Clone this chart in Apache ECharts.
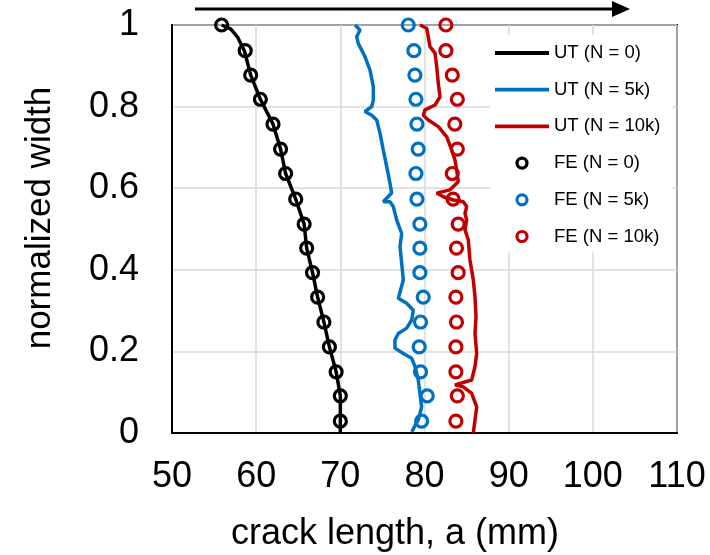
<!DOCTYPE html>
<html>
<head>
<meta charset="utf-8">
<script src="https://cdn.jsdelivr.net/npm/echarts@6/dist/echarts.min.js"></script>
<style>html,body{margin:0;padding:0;background:#fff}#c{width:710px;height:555px}</style>
</head>
<body>
<div id="c"></div>
<script>
// ---- data ----
const xTicks = [50, 60, 70, 80, 90, 100, 110];
const yTicks = [0, 0.2, 0.4, 0.6, 0.8, 1];
const seriesNames = ['UT (N = 0)', 'UT (N = 5k)', 'UT (N = 10k)', 'FE (N = 0)', 'FE (N = 5k)', 'FE (N = 10k)'];

const feY = [1, 0.937, 0.877, 0.818, 0.757, 0.696, 0.636, 0.573, 0.512, 0.453, 0.393, 0.333, 0.272, 0.211, 0.150, 0.091, 0.029];
const fe0X = [55.9, 58.7, 59.35, 60.5, 62.0, 62.9, 63.5, 64.7, 65.7, 66.0, 66.7, 67.3, 68.05, 68.7, 69.5, 70.0, 70.0];
const fe5X = [78.07, 78.74, 78.86, 78.98, 79.1, 79.25, 78.98, 79.1, 79.45, 79.45, 79.45, 79.85, 79.53, 79.37, 79.53, 80.32, 79.66];
const fe10X = [82.54, 82.54, 83.3, 83.9, 83.6, 83.9, 83.3, 83.4, 84.0, 83.8, 84.0, 83.73, 83.8, 83.73, 83.73, 83.9, 83.73];

const ut0X = [55.9, 57.0, 57.8, 58.6, 59.35, 60.5, 62.0, 62.9, 63.5, 64.7, 65.7, 66.0, 66.7, 67.3, 68.05, 68.7, 69.5, 70.0, 70.0, 70.0];
const ut0Y = [1.0, 0.99, 0.97, 0.937, 0.877, 0.818, 0.757, 0.696, 0.636, 0.573, 0.512, 0.453, 0.393, 0.333, 0.272, 0.211, 0.150, 0.091, 0.029, 0.0];

const ut5X = [71.74, 72.34, 71.94, 72.13, 72.93, 73.52, 73.92, 73.92, 73.73, 72.93, 73.73, 74.32, 74.71, 75.10, 75.51, 75.90, 76.10, 75.10, 75.90, 76.29, 76.70, 77.29, 77.09, 77.29, 77.48, 76.89, 77.88, 78.67, 78.48, 77.88, 76.89, 76.49, 76.49, 77.48, 78.48, 78.87, 79.26, 79.46, 79.66, 79.26, 78.48];
const ut5Y = [1.0, 0.988, 0.971, 0.955, 0.922, 0.890, 0.849, 0.816, 0.800, 0.788, 0.779, 0.767, 0.735, 0.694, 0.653, 0.612, 0.588, 0.567, 0.567, 0.555, 0.522, 0.489, 0.457, 0.416, 0.375, 0.330, 0.318, 0.301, 0.277, 0.257, 0.244, 0.228, 0.208, 0.195, 0.183, 0.163, 0.130, 0.097, 0.064, 0.032, 0.003];

const ut10X = [79.46, 80.26, 80.45, 80.65, 81.25, 81.45, 81.64, 81.84, 81.25, 80.06, 79.86, 80.45, 81.64, 82.64, 83.23, 83.62, 83.82, 84.01, 83.03, 81.45, 82.23, 83.42, 84.61, 85.01, 84.81, 85.01, 84.81, 85.20, 85.40, 85.80, 86.00, 86.12, 86.00, 86.20, 86.00, 85.61, 83.62, 84.61, 85.61, 86.20, 86.00, 85.80];
const ut10Y = [1.0, 0.992, 0.971, 0.947, 0.931, 0.898, 0.857, 0.824, 0.804, 0.792, 0.779, 0.767, 0.751, 0.726, 0.694, 0.669, 0.645, 0.616, 0.596, 0.588, 0.579, 0.571, 0.567, 0.555, 0.538, 0.522, 0.498, 0.473, 0.424, 0.375, 0.334, 0.285, 0.244, 0.195, 0.163, 0.130, 0.118, 0.113, 0.097, 0.064, 0.032, 0.0];

const colors = ['#000000', '#0070c0', '#c00000'];

// ---- build ----
const pairs = (xs, ys) => xs.map((x, i) => [x, ys[i]]);
const font = 'Liberation Sans, Arial, sans-serif';

const lineSeries = [[ut0X, ut0Y], [ut5X, ut5Y], [ut10X, ut10Y]].map((d, i) => ({
  name: seriesNames[i], type: 'line', data: pairs(d[0], d[1]),
  symbol: 'none', smooth: false, z: 3,
  lineStyle: { color: colors[i], width: 3.5 }, itemStyle: { color: colors[i] }
}));
const scatterSeries = [fe0X, fe5X, fe10X].map((xs, i) => ({
  name: seriesNames[3 + i], type: 'scatter', data: pairs(xs, feY),
  symbol: 'circle', symbolSize: 12, z: 4,
  itemStyle: { color: 'rgba(255,255,255,0)', borderColor: colors[i], borderWidth: 3.2, opacity: 1 }
}));

const chart = echarts.init(document.getElementById('c'), null, { renderer: 'canvas' });
chart.setOption({
  backgroundColor: '#fff',
  animation: false,
  textStyle: { fontFamily: font },
  grid: { left: 172, right: 33, top: 25, bottom: 122, show: true, borderColor: '#000', borderWidth: 2, backgroundColor: 'transparent' },
  xAxis: {
    type: 'value', min: xTicks[0], max: xTicks[xTicks.length - 1], interval: 10,
    axisLine: { show: true, lineStyle: { color: '#000', width: 2 } },
    axisTick: { show: false },
    axisLabel: { fontSize: 36, color: '#000', margin: 26, fontFamily: font },
    splitLine: { show: true, lineStyle: { color: '#d9d9d9', width: 1.5 } }
  },
  yAxis: {
    type: 'value', min: yTicks[0], max: yTicks[yTicks.length - 1], interval: 0.2,
    axisLine: { show: true, lineStyle: { color: '#000', width: 2 } },
    axisTick: { show: false },
    axisLabel: { fontSize: 36, color: '#000', margin: 33, fontFamily: font },
    splitLine: { show: true, lineStyle: { color: '#d9d9d9', width: 1.5 } }
  },
  legend: {
    orient: 'vertical', left: 490, top: 35,
    padding: [8, 12, 6, 5],
    backgroundColor: '#fff',
    itemWidth: 54, itemHeight: 10, itemGap: 16.7,
    textStyle: { fontSize: 18.5, color: '#000', fontFamily: font, lineHeight: 20 },
    data: seriesNames.map((n, i) => i < 3
      ? { name: n, icon: 'path://M0,0 L100,0 L100,7 L0,7 Z' }
      : { name: n, icon: 'circle', itemStyle: { color: '#fff', borderColor: colors[i - 3], borderWidth: 3.2 } }),
    z: 10
  },
  series: [...lineSeries, ...scatterSeries],
  graphic: [
    { type: 'text', x: 395, y: 534, z: 20,
      style: { text: 'crack length, a (mm)', fill: '#000', font: '36px ' + font, align: 'center', verticalAlign: 'middle' } },
    { type: 'text', x: 40, y: 218, rotation: Math.PI / 2, z: 20,
      style: { text: 'normalized width', fill: '#000', font: '35px ' + font, align: 'center', verticalAlign: 'middle' } },
    { type: 'line', z: 20, shape: { x1: 195, y1: 9, x2: 615, y2: 9 }, style: { stroke: '#000', lineWidth: 3 } },
    { type: 'polygon', z: 20, shape: { points: [[612, 1], [630, 9], [612, 17]] }, style: { fill: '#000' } }
  ]
});
</script>
</body>
</html>
